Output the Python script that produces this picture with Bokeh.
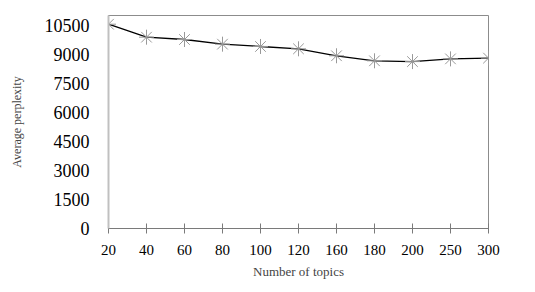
from bokeh.plotting import figure
from bokeh.models import FixedTicker, Range1d, ColumnDataSource
from bokeh.embed import file_html
from bokeh.resources import INLINE

topics = ["20", "40", "60", "80", "100", "120", "160", "180", "200", "250", "300"]
perplexity = [10550, 9880, 9760, 9520, 9400, 9280, 8920, 8660, 8620, 8760, 8800]
y_ticks = [0, 1500, 3000, 4500, 6000, 7500, 9000, 10500]

idx = list(range(len(topics)))
src = ColumnDataSource(dict(x=idx, y=perplexity))

p = figure(width=519, height=284, output_backend="svg", toolbar_location=None,
           x_range=Range1d(0, len(topics) - 1), y_range=Range1d(0, 11000),
           min_border_left=108, min_border_right=31, min_border_top=15, min_border_bottom=56)
p.xgrid.visible = False
p.ygrid.visible = False
p.outline_line_color = "#8c8c8c"
p.outline_line_width = 1

p.line("x", "y", source=src, line_color="black", line_width=1.3)
p.scatter("x", "y", source=src, marker="asterisk", size=15, line_color="#999999", line_width=1)

xa = p.xaxis[0]
xa.ticker = FixedTicker(ticks=idx)
xa.major_label_overrides = {i: t for i, t in enumerate(topics)}
xa.axis_line_color = "#7a7a7a"
xa.major_tick_line_color = "#7a7a7a"
xa.major_tick_in = 5
xa.major_tick_out = 5
xa.minor_tick_line_color = None
xa.major_label_text_font = "Liberation Serif"
xa.major_label_text_font_size = "15px"
xa.major_label_text_color = "black"
xa.major_label_standoff = 11
xa.axis_label = "Number of topics"
xa.axis_label_text_font = "Liberation Serif"
xa.axis_label_text_font_size = "13px"
xa.axis_label_text_font_style = "normal"
xa.axis_label_standoff = 6

ya = p.yaxis[0]
ya.ticker = FixedTicker(ticks=y_ticks)
ya.axis_line_color = "#c0c0c0"
ya.axis_line_width = 2
ya.major_tick_line_color = None
ya.minor_tick_line_color = None
ya.major_label_text_font = "Liberation Serif"
ya.major_label_text_font_size = "18px"
ya.major_label_text_color = "black"
ya.major_label_standoff = 13
ya.axis_label = "Average perplexity"
ya.axis_label_text_font = "Liberation Serif"
ya.axis_label_text_font_size = "12px"
ya.axis_label_text_font_style = "normal"
ya.axis_label_standoff = 18

open("out.html", "w").write(file_html(p, INLINE))
